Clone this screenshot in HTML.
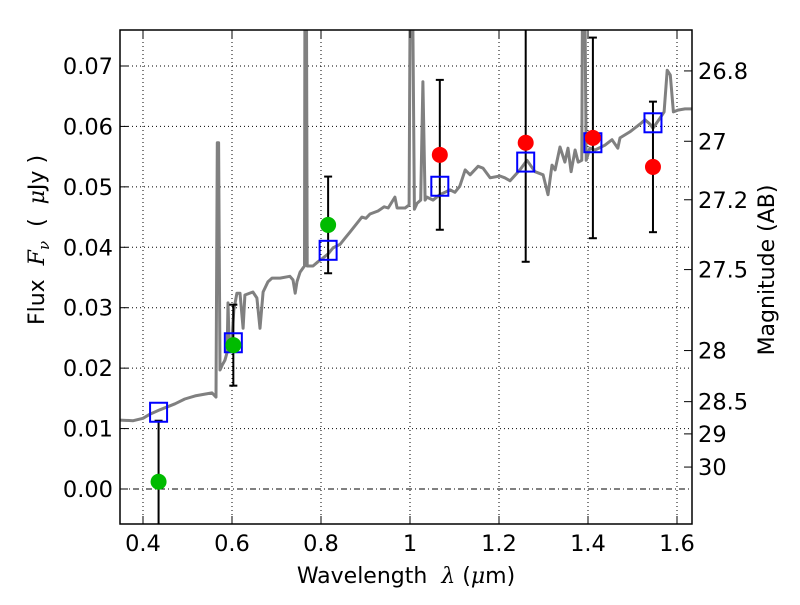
<!DOCTYPE html>
<html><head><meta charset="utf-8"><style>
body{margin:0;background:#fff}
svg text{font-family:"DejaVu Sans","Liberation Sans",sans-serif;fill:#000}
</style></head><body>
<svg id="chart" width="800" height="600" xmlns="http://www.w3.org/2000/svg">
<defs><clipPath id="pc"><rect x="120" y="30" width="572" height="494"/></clipPath></defs>
<g id="grid"></g>
<g id="spec" clip-path="url(#pc)"></g>
<g id="marks" clip-path="url(#pc)"></g>
<rect x="120" y="30" width="572" height="494" fill="none" stroke="#000" stroke-width="1.5"/>
<g id="axes"></g>
<text x="406" y="583" font-size="22" text-anchor="middle">Wavelength&#160;&#160;<tspan font-style="italic" font-family="DejaVu Serif">λ</tspan> (<tspan font-style="italic" font-family="DejaVu Serif">μ</tspan>m)</text>
<text transform="translate(44,240) rotate(-90)" font-size="22" text-anchor="middle">Flux&#160;&#160;<tspan font-style="italic" font-family="DejaVu Serif">F</tspan><tspan font-style="italic" font-family="DejaVu Serif" font-size="15" dy="5">ν</tspan><tspan dy="-5">&#160;&#160;(&#160;&#160;</tspan><tspan font-style="italic" font-family="DejaVu Serif">μ</tspan>Jy )</text>
<text transform="translate(774,270) rotate(-90)" font-size="22" text-anchor="middle">Magnitude (AB)</text>
</svg>
<script>
const xTicks=[0.4,0.6,0.8,1.0,1.2,1.4,1.6];
const xTickLabels=["0.4","0.6","0.8","1","1.2","1.4","1.6"];
const yTicks=[0,0.01,0.02,0.03,0.04,0.05,0.06,0.07];
const yTickLabels=["0.00","0.01","0.02","0.03","0.04","0.05","0.06","0.07"];
const magTicks=[26.8,27,27.2,27.5,28,28.5,29,30];
const magTickLabels=["26.8","27","27.2","27.5","28","28.5","29","30"];
const specLam=[0.348,0.378,0.400,0.416,0.438,0.472,0.494,0.517,0.539,0.555,0.564,0.567,0.570,0.573,0.578,0.584,0.589,0.591,0.594,0.600,0.604,0.611,0.618,0.625,0.629,0.647,0.656,0.663,0.670,0.681,0.690,0.708,0.730,0.737,0.742,0.746,0.753,0.760,0.763,0.764,0.767,0.769,0.782,0.793,0.804,0.816,0.827,0.843,0.854,0.865,0.892,0.901,0.910,0.928,0.942,0.951,0.966,0.971,0.989,0.998,1.001,1.005,1.010,1.016,1.024,1.029,1.034,1.038,1.052,1.067,1.090,1.101,1.112,1.124,1.135,1.153,1.164,1.180,1.202,1.213,1.225,1.247,1.263,1.281,1.299,1.310,1.319,1.326,1.337,1.348,1.355,1.362,1.371,1.378,1.386,1.388,1.392,1.396,1.404,1.416,1.438,1.454,1.467,1.472,1.483,1.494,1.517,1.528,1.539,1.546,1.562,1.571,1.578,1.585,1.592,1.602,1.618,1.634];
const specFlux=[0.0114,0.0113,0.0117,0.0124,0.0131,0.0141,0.0149,0.0154,0.0157,0.0159,0.0152,0.0573,0.0573,0.0197,0.0205,0.0213,0.0226,0.0308,0.0230,0.0247,0.0296,0.0324,0.0324,0.0266,0.0321,0.0326,0.0316,0.0266,0.0326,0.0343,0.0349,0.0349,0.0352,0.0346,0.0324,0.0343,0.0359,0.0366,0.0369,0.09,0.09,0.0369,0.0369,0.0376,0.0382,0.0389,0.0399,0.0405,0.0415,0.0425,0.0450,0.0448,0.0455,0.0460,0.0467,0.0465,0.0483,0.0465,0.0465,0.0470,0.09,0.09,0.0463,0.0473,0.0478,0.0674,0.0478,0.0483,0.0478,0.0487,0.0495,0.0491,0.0501,0.0528,0.0520,0.0534,0.0531,0.0515,0.0518,0.0515,0.0510,0.0528,0.0544,0.0525,0.0520,0.0487,0.0536,0.0528,0.0566,0.0541,0.0564,0.0525,0.0561,0.0541,0.0544,0.09,0.09,0.0544,0.0564,0.0561,0.0569,0.0578,0.0564,0.0581,0.0586,0.0591,0.0604,0.0611,0.0604,0.0597,0.0614,0.0624,0.0693,0.0685,0.0624,0.0627,0.0629,0.0629];
const photLam=[0.435,0.603,0.816,1.067,1.260,1.411,1.546];
const photFlux=[0.0012,0.0238,0.0437,0.0553,0.0573,0.0581,0.0533];
const photErr=[0.0101,0.0067,0.0080,0.0124,0.0197,0.0166,0.0108];
const photColor=["#00bb00","#00bb00","#00bb00","#ff0000","#ff0000","#ff0000","#ff0000"];
const modelFlux=[0.0127,0.0242,0.0395,0.0501,0.0541,0.0573,0.0606];

const NS="http://www.w3.org/2000/svg";
const X=l=>143+(l-0.4)*445;
const Y=f=>489-f*6043;
const magToFlux=m=>Math.pow(10,(23.9-m)/2.5);
function mk(tag,attrs,parent){const e=document.createElementNS(NS,tag);for(const k in attrs)e.setAttribute(k,attrs[k]);parent.appendChild(e);return e;}
const grid=document.getElementById('grid'),axes=document.getElementById('axes');
xTicks.forEach((t,i)=>{
  let g=mk('line',{x1:X(t),x2:X(t),y1:30,y2:524,stroke:'#000','stroke-width':1,'stroke-dasharray':'1,3'},grid);
  
  
  mk('line',{x1:X(t),x2:X(t),y1:524,y2:516,stroke:'#000'},axes);
  mk('line',{x1:X(t),x2:X(t),y1:30,y2:38,stroke:'#000'},axes);
  let tx=mk('text',{x:X(t),y:551,'font-size':22.5,'text-anchor':'middle'},axes);
  tx.textContent=xTickLabels[i];
  
  
});
yTicks.forEach((t,i)=>{
  let g=mk('line',{x1:120,x2:692,y1:Y(t),y2:Y(t),stroke:'#000','stroke-width':1,'stroke-dasharray':t===0?'6,3,1,3':'1,3'},grid);
  
  
  mk('line',{x1:120,x2:128,y1:Y(t),y2:Y(t),stroke:'#000'},axes);
  let tx=mk('text',{x:113,y:Y(t)+8,'font-size':22.5,'text-anchor':'end'},axes);
  tx.textContent=yTickLabels[i];
  
  
});
magTicks.forEach((m,i)=>{
  const y=Y(magToFlux(m));
  mk('line',{x1:684,x2:692,y1:y,y2:y,stroke:'#000'},axes);
  let tx=mk('text',{x:698,y:y+8,'font-size':22.5},axes);
  tx.textContent=magTickLabels[i];
  
  
});
const spec=document.getElementById('spec');
let d=specLam.map((l,i)=>(i?'L':'M')+X(l).toFixed(1)+','+Y(specFlux[i]).toFixed(1)).join('');
let p=mk('path',{d:d,fill:'none',stroke:'#808080','stroke-width':3,'stroke-linejoin':'round'},spec);


const marks=document.getElementById('marks');
photLam.forEach((l,i)=>{
  const x=X(l),y0=Y(photFlux[i]-photErr[i]),y1=Y(photFlux[i]+photErr[i]);
  let e=mk('line',{x1:x,x2:x,y1:y0,y2:y1,stroke:'#000','stroke-width':2},marks);
  
  
  mk('line',{x1:x-4,x2:x+4,y1:y0,y2:y0,stroke:'#000','stroke-width':2},marks);
  mk('line',{x1:x-4,x2:x+4,y1:y1,y2:y1,stroke:'#000','stroke-width':2},marks);
  let s=mk('rect',{x:x-8.5,y:Y(modelFlux[i])-9.5,width:17,height:19,fill:'none',stroke:'#0000ff','stroke-width':2},marks);
  
  
  let c=mk('circle',{cx:x,cy:Y(photFlux[i]),r:8,fill:photColor[i]},marks);
  
  
});
</script>
</body></html>
